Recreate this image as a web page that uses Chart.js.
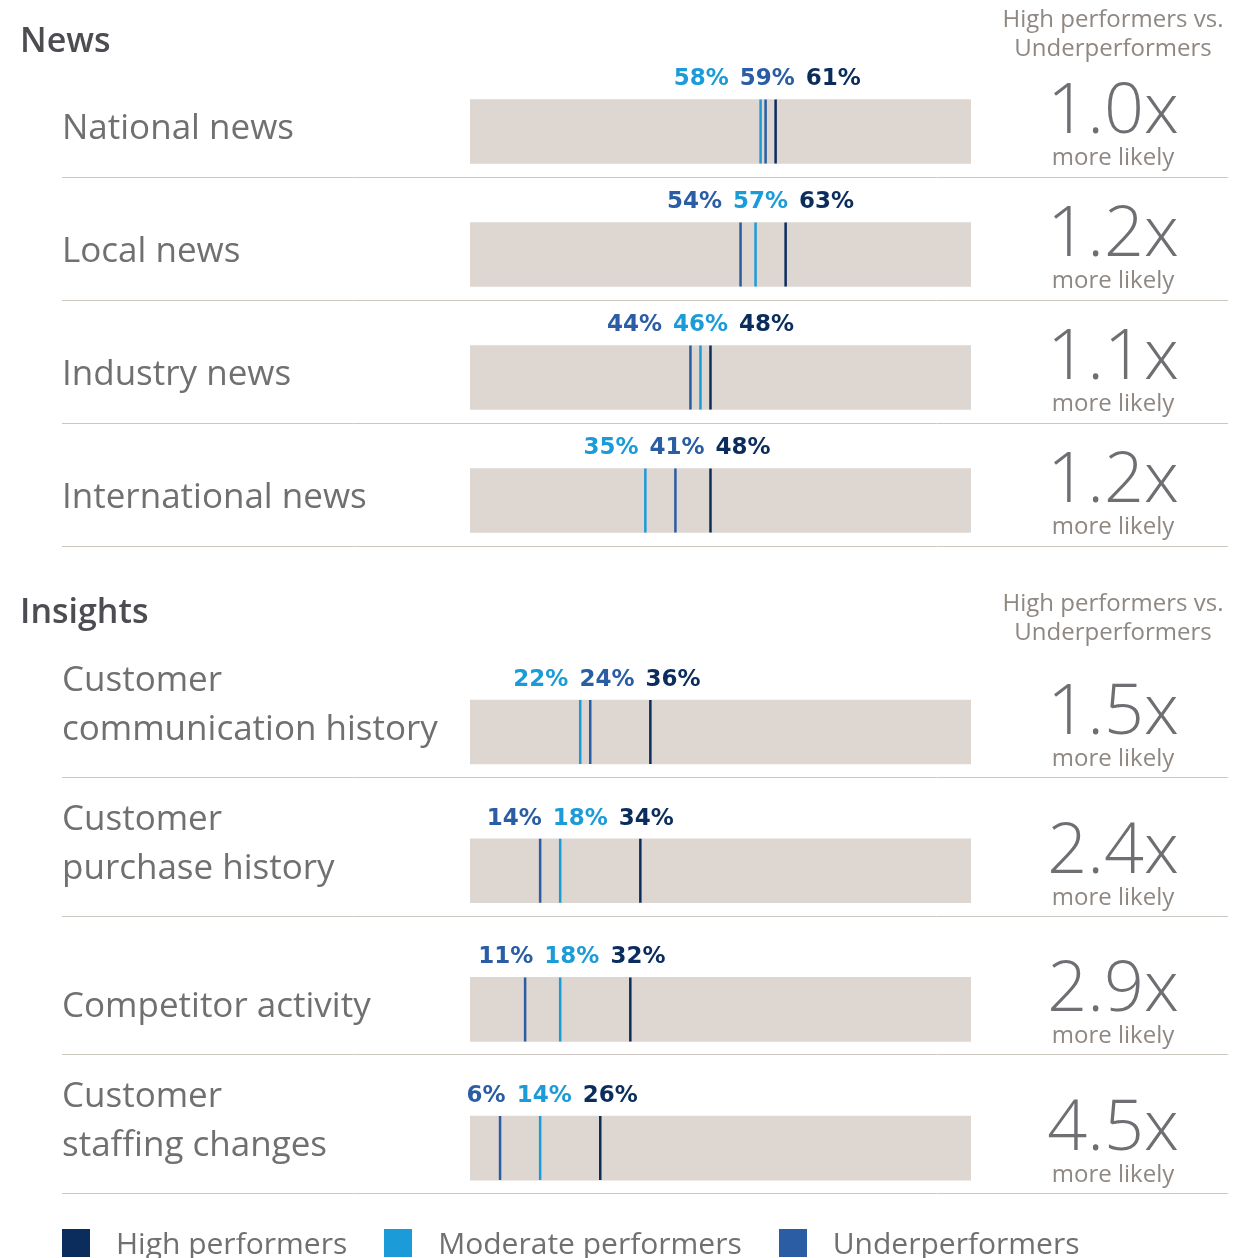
<!DOCTYPE html>
<html>
<head>
<meta charset="utf-8">
<script src="https://cdn.jsdelivr.net/npm/chart.js@4"></script>
<style>
  body { margin: 0; background: #fff; width: 1246px; height: 1258px; overflow: hidden; position: relative; font-family: "Open Sans", sans-serif; }
  .wrap { position: absolute; left: 0; width: 1246px; }
  #legend { position: absolute; top: 1222px; left: 62px; display: flex; align-items: center; color: #707070; font-size: 30px; }
  #legend span.box { display: inline-block; width: 28px; height: 28px; margin-right: 26px; }
  #legend span.item { display: flex; align-items: center; margin-right: 37px; }
</style>
</head>
<body>
<div class="wrap" style="top:0;height:602px"><canvas id="newsChart"></canvas></div>
<div class="wrap" style="top:570px;height:688px"><canvas id="insightsChart"></canvas></div>
<div id="legend"></div>
<script>
const newsCategories = [['National news'], ['Local news'], ['Industry news'], ['International news']];
const newsHigh = [61, 63, 48, 48];
const newsModerate = [58, 57, 46, 35];
const newsUnder = [59, 54, 44, 41];
const newsRatio = [1.0, 1.2, 1.1, 1.2];

const insightCategories = [['Customer', 'communication history'], ['Customer', 'purchase history'], ['Competitor activity'], ['Customer', 'staffing changes']];
const insightHigh = [36, 34, 32, 26];
const insightModerate = [22, 18, 18, 14];
const insightUnder = [24, 14, 11, 6];
const insightRatio = [1.5, 2.4, 2.9, 4.5];

const seriesNames = ['High performers', 'Moderate performers', 'Underperformers'];
const seriesColors = ['#0b2d5d', '#1b9bd8', '#2a5da3'];
const trackColor = '#ddd6d1';

// draws row labels, separators, value labels and the ratio column
const overlay = {
    id: 'overlay',
    afterDraw(chart, args, opts) {
        const ctx = chart.ctx;
        const xs = chart.scales.x;
        const ys = chart.scales.y;
        ctx.save();
        ctx.textBaseline = 'middle';

        ctx.font = '600 34px "Open Sans"';
        ctx.fillStyle = '#4d4c52';
        ctx.textAlign = 'left';
        ctx.fillText(opts.title, 20, opts.titleY);

        ctx.font = '24px "Open Sans"';
        ctx.fillStyle = '#8f8782';
        ctx.textAlign = 'center';
        ctx.fillText('High performers vs.', 1113, opts.noteY);
        ctx.fillText('Underperformers', 1113, opts.noteY + 29);

        const lineSets = chart.data.datasets.filter(d => d.type === 'line');

        chart.data.labels.forEach((lines, i) => {
            const cy = ys.getPixelForValue(i);

            ctx.font = '35px "Open Sans"';
            ctx.fillStyle = '#707070';
            ctx.textAlign = 'left';
            lines.forEach((t, k) => {
                ctx.fillText(t, 62, cy - 2 - (lines.length - 1 - k) * 49);
            });

            ctx.strokeStyle = '#cdc7c2';
            ctx.lineWidth = 1;
            ctx.beginPath();
            ctx.moveTo(62, Math.round(cy + 45) + 0.5);
            ctx.lineTo(1228, Math.round(cy + 45) + 0.5);
            ctx.stroke();

            ctx.textAlign = 'center';
            ctx.font = '300 70px "Open Sans"';
            ctx.fillStyle = '#6f6e73';
            ctx.fillText(opts.ratios[i].toFixed(1) + 'x', 1113, cy - 18);
            ctx.font = '24px "Open Sans"';
            ctx.fillStyle = '#8f8782';
            ctx.fillText('more likely', 1113, cy + 27);

            // value labels, spread apart so they do not overlap
            ctx.font = 'bold 23px "DejaVu Sans"';
            const gap = 11;
            const items = lineSets.map(d => {
                const v = d.data[i].x;
                const text = v + '%';
                return { v, text, color: d.borderColor, d: xs.getPixelForValue(v), w: ctx.measureText(text).width };
            }).sort((a, b) => a.v - b.v);
            let clusters = items.map(it => ({ items: [it] }));
            const place = c => {
                let off = 0;
                const offs = c.items.map(it => { const o = off + it.w / 2; off += it.w + gap; return o; });
                c.width = off - gap;
                c.left = c.items.reduce((s, it, k) => s + it.d - offs[k], 0) / c.items.length;
                c.offs = offs;
            };
            clusters.forEach(place);
            let merged = true;
            while (merged) {
                merged = false;
                for (let k = 0; k < clusters.length - 1; k++) {
                    const a = clusters[k], b = clusters[k + 1];
                    if (a.left + a.width + gap > b.left) {
                        const c = { items: a.items.concat(b.items) };
                        place(c);
                        clusters.splice(k, 2, c);
                        merged = true;
                        break;
                    }
                }
            }
            clusters.forEach(c => {
                c.items.forEach((it, k) => {
                    ctx.fillStyle = it.color;
                    ctx.fillText(it.text, c.left + c.offs[k], cy - 52);
                });
            });
        });
        ctx.restore();
    }
};

function makeChart(id, categories, high, moderate, under, ratios, title, titleY, noteY, padTop, padBottom) {
    const values = [high, moderate, under];
    const lineSets = values.map((vals, k) => ({
        type: 'line',
        label: seriesNames[k],
        data: vals.map((v, i) => ({ x: v, y: i })),
        showLine: false,
        pointStyle: 'line',
        rotation: 90,
        radius: 32,
        borderWidth: 2.5,
        borderColor: seriesColors[k],
        backgroundColor: seriesColors[k],
        order: 1
    }));
    return new Chart(document.getElementById(id), {
        type: 'bar',
        data: {
            labels: categories,
            datasets: [{
                label: 'track',
                data: categories.map(() => [0, 100]),
                backgroundColor: trackColor,
                barThickness: 64,
                order: 5
            }].concat(lineSets)
        },
        options: {
            indexAxis: 'y',
            responsive: true,
            maintainAspectRatio: false,
            animation: false,
            events: [],
            layout: { padding: { left: 470, right: 275, top: padTop, bottom: padBottom } },
            scales: {
                x: { min: 0, max: 100, display: false },
                y: { display: false, offset: true }
            },
            plugins: {
                legend: { display: false },
                tooltip: { enabled: false },
                overlay: { title, titleY, noteY, ratios }
            }
        },
        plugins: [overlay]
    });
}

// canvas heights: top pad + 4 rows + bottom pad (bottom pad kept above the point overflow)
makeChart('newsChart', newsCategories, newsHigh, newsModerate, newsUnder, newsRatio, 'News', 42, 20, 70, 40);
makeChart('insightsChart', insightCategories, insightHigh, insightModerate, insightUnder, insightRatio, 'Insights', 43, 34, 92.7, 40.6);

const legend = document.getElementById('legend');
seriesNames.forEach((name, k) => {
    const item = document.createElement('span');
    item.className = 'item';
    item.innerHTML = '<span class="box" style="background:' + seriesColors[k] + '"></span>' + name;
    legend.appendChild(item);
});
</script>
</body>
</html>
